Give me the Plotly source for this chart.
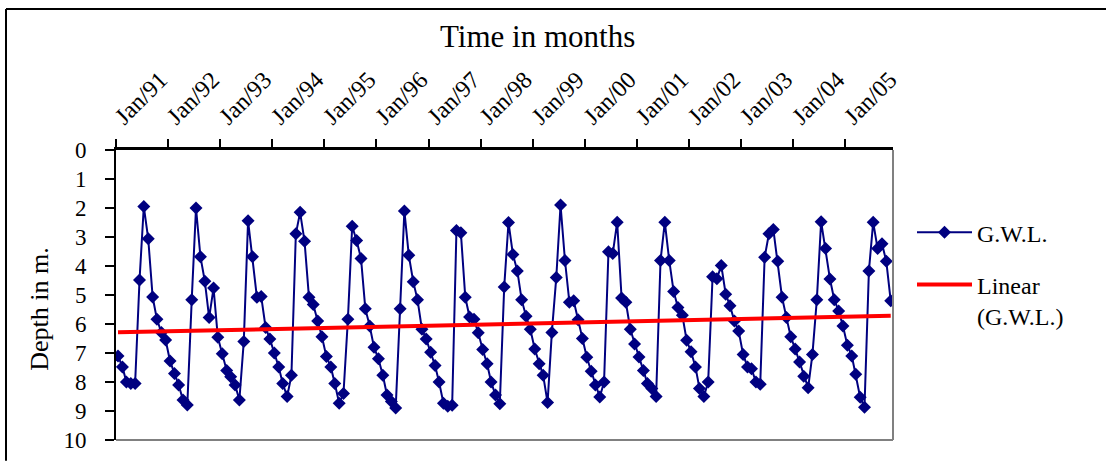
import numpy as np
import pandas as pd
import plotly.graph_objects as go

# Monthly groundwater level depth (m), Jan 1991 .. Nov 2005
y1991 = [7.10, 7.48, 8.00, 8.05, 8.05, 4.48, 1.95, 3.06, 5.07, 5.84, 6.29, 6.55]
y1992 = [7.28, 7.71, 8.10, 8.62, 8.79, 5.16, 2.00, 3.68, 4.53, 5.78, 4.76, 6.46]
y1993 = [7.03, 7.60, 7.82, 8.10, 8.62, 6.60, 2.44, 3.68, 5.08, 5.05, 6.12, 6.52]
y1994 = [7.00, 7.48, 8.05, 8.50, 7.77, 2.89, 2.15, 3.15, 5.08, 5.33, 5.90, 6.44]
y1995 = [7.12, 7.48, 8.05, 8.73, 8.40, 5.84, 2.63, 3.12, 3.74, 5.47, 6.07, 6.80]
y1996 = [7.20, 7.77, 8.45, 8.67, 8.90, 5.47, 2.10, 3.63, 4.54, 5.16, 6.18, 6.52]
y1997 = [6.97, 7.43, 8.00, 8.73, 8.84, 8.80, 2.78, 2.85, 5.08, 5.76, 5.84, 6.30]
y1998 = [6.88, 7.37, 8.00, 8.45, 8.75, 4.72, 2.50, 3.60, 4.17, 5.16, 5.73, 6.18]
y1999 = [6.86, 7.37, 7.77, 8.71, 6.29, 4.40, 1.90, 3.81, 5.25, 5.20, 5.85, 6.50]
y2000 = [7.15, 7.63, 8.10, 8.52, 8.00, 3.51, 3.57, 2.49, 5.10, 5.25, 6.18, 6.69]
y2001 = [7.14, 7.60, 8.05, 8.22, 8.50, 3.81, 2.49, 3.81, 4.88, 5.43, 5.70, 6.56]
y2002 = [6.96, 7.48, 8.22, 8.50, 8.00, 4.37, 4.44, 3.98, 4.97, 5.37, 5.90, 6.24]
y2003 = [7.05, 7.48, 7.54, 8.00, 8.08, 3.70, 2.89, 2.74, 3.84, 5.08, 5.78, 6.44]
y2004 = [6.86, 7.31, 7.80, 8.20, 7.05, 5.16, 2.47, 3.40, 4.45, 5.16, 5.55, 6.07]
y2005 = [6.73, 7.10, 7.73, 8.53, 8.87, 4.17, 2.49, 3.40, 3.23, 3.84, 5.20]

depth = (y1991 + y1992 + y1993 + y1994 + y1995 + y1996 + y1997 + y1998
         + y1999 + y2000 + y2001 + y2002 + y2003 + y2004 + y2005)

start_month = "1991-01-01"
months = pd.date_range(start_month, periods=len(depth), freq="MS") + pd.Timedelta(days=14)

tick_years = list(range(1991, 2006))
tick_vals = [f"{y}-01-01" for y in tick_years]
tick_text = [f"Jan/{str(y)[2:]}" for y in tick_years]

# Linear trendline (least squares on month index)
idx = np.arange(len(depth))
slope, intercept = np.polyfit(idx, np.array(depth), 1)
trend_y = intercept + slope * idx

SERIF = "Liberation Serif, Times New Roman, serif"
NAVY = "#000080"

fig = go.Figure()
fig.add_trace(go.Scatter(
    x=months, y=depth, mode="lines+markers", name="G.W.L.", legendgroup="g1",
    line=dict(color=NAVY, width=2),
    marker=dict(symbol="diamond", size=10, color=NAVY),
))
fig.add_trace(go.Scatter(
    x=months, y=trend_y, mode="lines", name="Linear<br>(G.W.L.)", legendgroup="g2",
    line=dict(color="#FF0000", width=4),
))

L, R, T, B = 116, 893, 150, 444
W, H = 1106, 465
pw, ph = R - L, B - T

def px(x):
    return (x - L) / pw

def py(y):
    return (B - y) / ph

fig.update_layout(
    width=W, height=H,
    margin=dict(l=L, r=W - R, t=T, b=H - B),
    paper_bgcolor="white", plot_bgcolor="white",
    font=dict(family=SERIF, color="black"),
    showlegend=True,
    legend=dict(
        x=px(912), y=py(211), xanchor="left", yanchor="top",
        font=dict(family=SERIF, size=24, color="black"),
        bgcolor="rgba(0,0,0,0)", itemwidth=55, tracegroupgap=18,
        valign="top",
    ),
    xaxis=dict(
        type="date", side="top",
        range=["1991-01-01", "2005-12-01"],
        tickmode="array", tickvals=tick_vals, ticktext=tick_text,
        tickangle=-45, ticks="outside", ticklen=8, tickwidth=1.5, tickcolor="black",
        tickfont=dict(family=SERIF, size=24, color="black"),
        showline=True, linecolor="black", linewidth=3,
        showgrid=False, zeroline=False,
    ),
    yaxis=dict(
        range=[10, 0], tickmode="linear", tick0=0, dtick=1,
        ticks="outside", ticklen=9, tickwidth=1.5, tickcolor="black",
        tickfont=dict(family=SERIF, size=23, color="black"),
        ticklabelstandoff=14,
        showline=True, linecolor="black", linewidth=2,
        showgrid=False, zeroline=False,
    ),
    shapes=[
        dict(type="line", xref="paper", yref="paper", x0=1, x1=1, y0=0, y1=1,
             line=dict(color="#808080", width=2)),
        dict(type="line", xref="paper", yref="paper", x0=0, x1=1, y0=0, y1=0,
             line=dict(color="#808080", width=2)),
        dict(type="line", xref="paper", yref="paper", x0=px(6), x1=px(1106), y0=py(7), y1=py(7),
             line=dict(color="black", width=2)),
        dict(type="line", xref="paper", yref="paper", x0=px(6), x1=px(6), y0=py(7), y1=py(465),
             line=dict(color="black", width=2)),
    ],
    annotations=[
        dict(text="Time in months", xref="paper", yref="paper", x=px(537), y=py(35),
             xanchor="center", yanchor="middle", showarrow=False,
             font=dict(family=SERIF, size=31, color="black")),
        dict(text="Depth in m.", xref="paper", yref="paper", x=px(40), y=py(311),
             xanchor="center", yanchor="middle", textangle=-90, showarrow=False,
             font=dict(family=SERIF, size=26, color="black")),
    ],
)

fig.write_html("out.html")
